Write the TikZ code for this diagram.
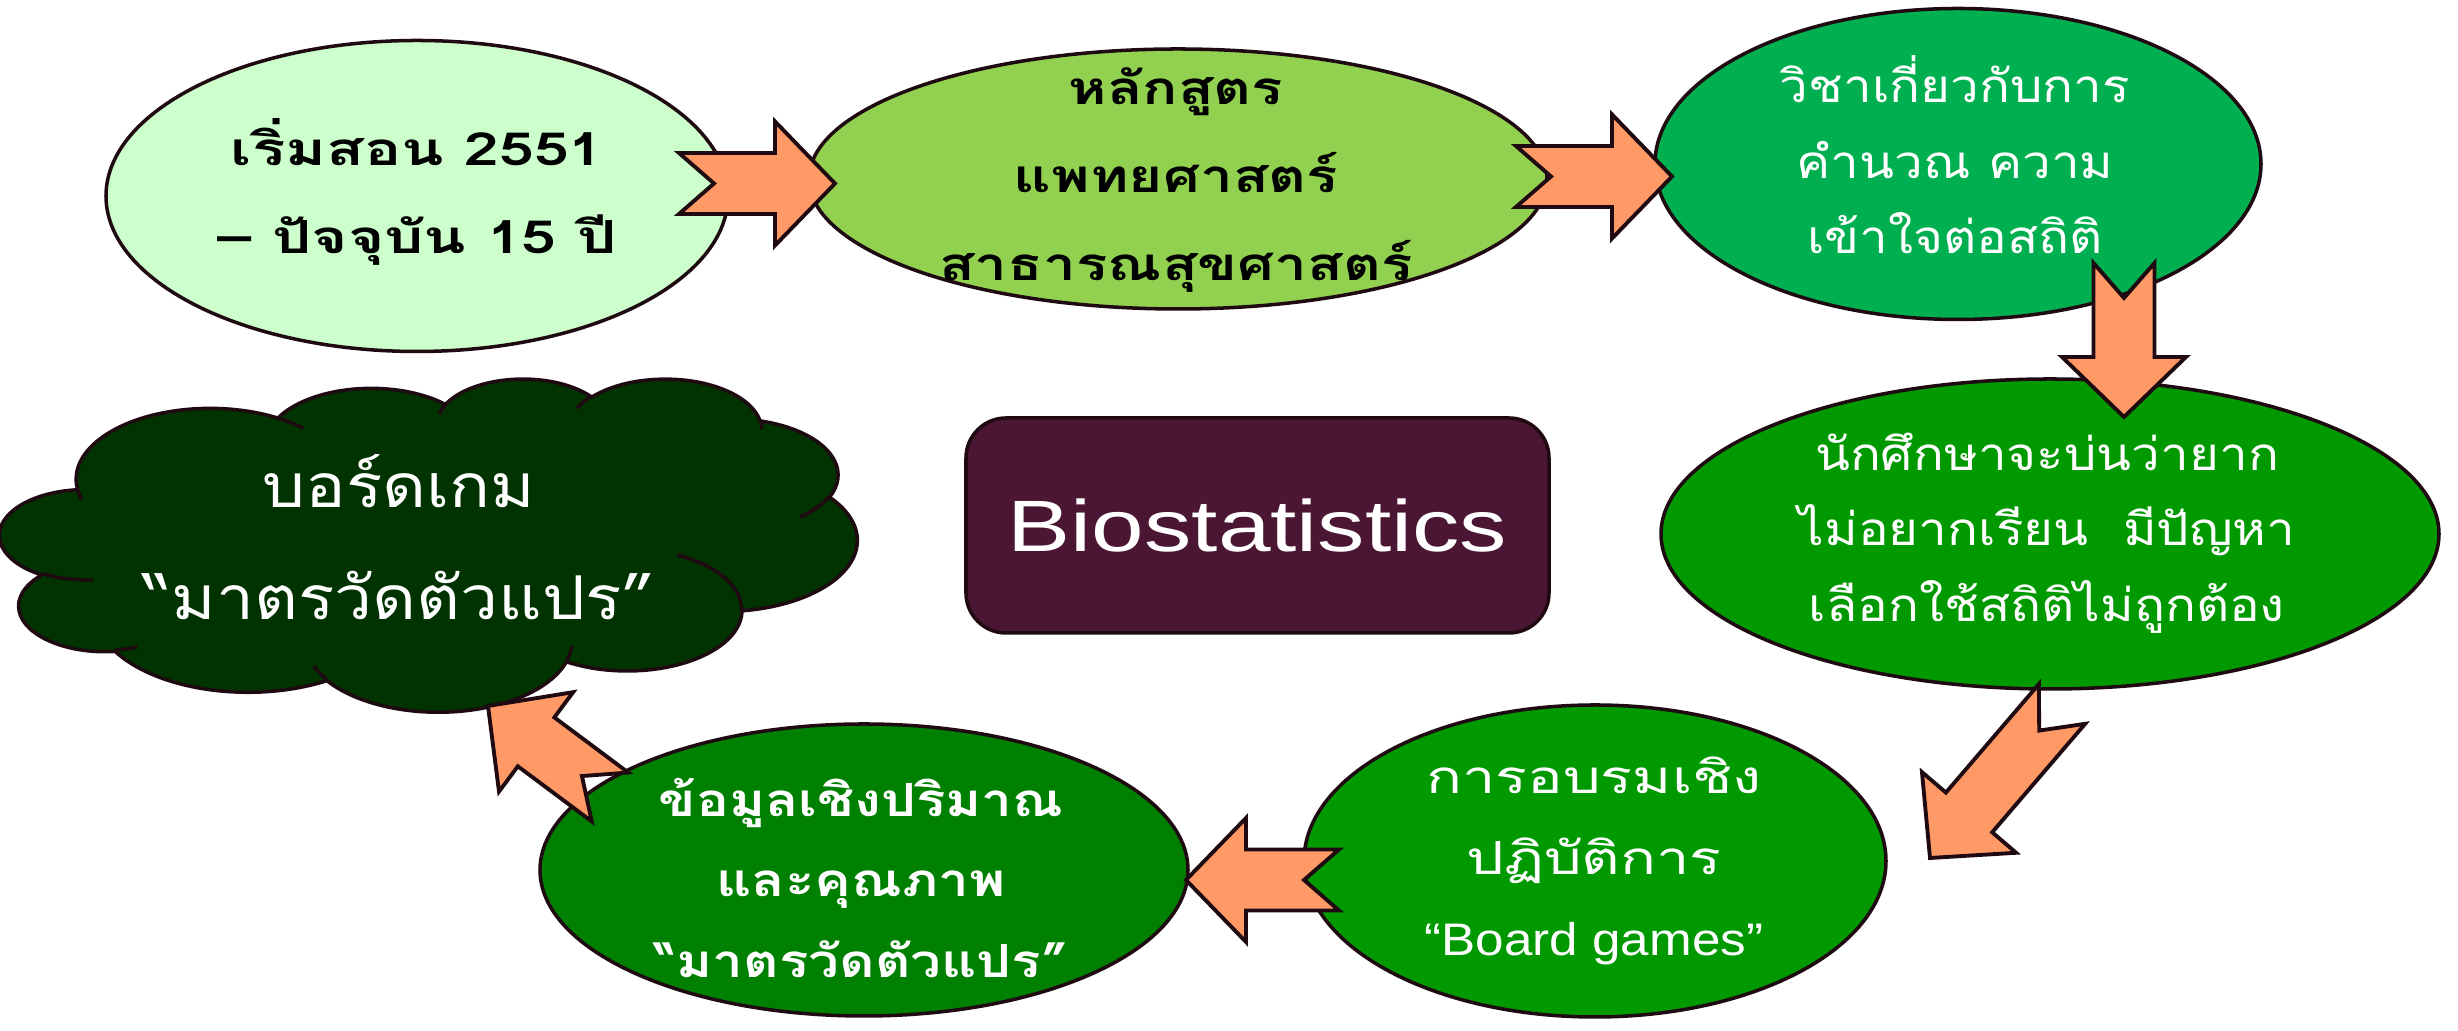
\documentclass[tikz,border=0pt]{standalone}
\usepackage{fontspec}
\setmainfont{Liberation Sans}[FakeStretch=1.3]
\newfontfamily\latinnarrow{Liberation Sans}[FakeStretch=1.12]
\newfontfamily\thaiwide{Loma}[Script=Thai,FakeStretch=1.3]
\newfontfamily\thaibig{Loma}[Script=Thai,FakeStretch=1.36]
\newfontfamily\thaimid{Loma}[Script=Thai,FakeStretch=1.28]
\newfontfamily\thaisemi{Loma}[Script=Thai,FakeStretch=1.2]
\newfontfamily\thainarrow{Loma}[Script=Thai,FakeStretch=1.12]
\usetikzlibrary{shapes.geometric,calc}
\definecolor{outl}{HTML}{200A12}
\definecolor{cpale}{HTML}{CCFFCC}
\definecolor{clime}{HTML}{92D050}
\definecolor{cmint}{HTML}{00B050}
\definecolor{cgrass}{HTML}{009900}
\definecolor{cleaf}{HTML}{008000}
\definecolor{cforest}{HTML}{003300}
\definecolor{cwine}{HTML}{4A1633}
\definecolor{cpeach}{HTML}{FF9966}
\newcommand{\puff}[4]{arc[x radius=#1, y radius=#2,
  start angle={atan2(#1*sin(#3),#2*cos(#3))},
  delta angle={mod(atan2(#1*sin(#3+#4),#2*cos(#3+#4))-atan2(#1*sin(#3),#2*cos(#3))+720,360)}]}
\newcommand{\notchedarrow}[2]{%
  \draw[blockarrow] ($(#1)!0.305cm!90:(#2)$)
    -- ($(#2)!0.6cm!(#1)!0.305cm!90:(#2)$)
    -- ($(#2)!0.6cm!(#1)!0.62cm!90:(#2)$)
    -- (#2)
    -- ($(#2)!0.6cm!(#1)!0.62cm!-90:(#2)$)
    -- ($(#2)!0.6cm!(#1)!0.305cm!-90:(#2)$)
    -- ($(#1)!0.305cm!-90:(#2)$)
    -- ($(#1)!0.35cm!(#2)$) -- cycle;}
\begin{document}
\begin{tikzpicture}[bubble/.style={ellipse, draw=outl, line width=1pt, inner sep=0pt},
    txtbold/.style={align=center, text=black, font=\thaimid\bfseries\fontsize{13}{25}\selectfont},
    txtlight/.style={align=center, text=white, font=\thainarrow\fontsize{13}{21.5}\selectfont},
    blockarrow/.style={draw=outl, fill=cpeach, line width=1.1pt}]
  \useasboundingbox (0,0) rectangle (24.58,10.31);
  \node [bubble, fill=cpale, minimum width=6.22cm, minimum height=3.11cm] (start) at (4.17,8.35) {};
  \node [bubble, fill=clime, minimum width=7.38cm, minimum height=2.60cm] (course) at (11.78,8.52) {};
  \node [bubble, fill=cmint, minimum width=6.06cm, minimum height=3.11cm] (subject) at (19.58,8.67) {};
  \node [bubble, fill=cgrass, minimum width=7.78cm, minimum height=3.10cm] (student) at (20.50,4.97) {};
  \node [bubble, fill=cgrass, minimum width=5.82cm, minimum height=3.12cm] (workshop) at (15.95,1.70) {};
  \node [bubble, fill=cleaf, minimum width=6.48cm, minimum height=2.92cm] (data) at (8.64,1.61) {};
  \node [rectangle, rounded corners=0.4cm, draw=outl, fill=cwine, line width=1pt,
    minimum width=5.83cm, minimum height=2.15cm] (title) at (12.575,5.055) {};
  \begin{scope}[shift={(0,6.53)}, xscale=0.19838, yscale=-0.077083, draw=outl, line width=1pt]
    \draw [fill=cforest] (3.9,14.37) \puff{6.753}{9.19}{-190.4875}{123.7805}
      \puff{5.333}{7.267}{-144.1024}{89.9452} \puff{4.365}{5.945}{-145.8079}{99.723}
      \puff{4.857}{6.595}{-130.9861}{117.2417} \puff{5.333}{7.273}{-78.7089}{109.0269}
      \puff{6.775}{9.22}{-46.2673}{130.269} \puff{5.785}{7.867}{0.625}{114.0333}
      \puff{6.752}{9.215}{22.4516}{115.1726} \puff{7.72}{10.543}{66.2426}{75.711}
      \puff{4.36}{5.918}{-274.9421}{146.7356} \puff{4.345}{5.945}{-246.8285}{152.5189} -- cycle;
    \draw (4.693,26.177) \puff{4.345}{5.945}{86.742}{26.4295}
      (6.928,34.899) \puff{4.36}{5.918}{73.6105}{11.4475}
      (16.478,39.09) \puff{6.752}{9.215}{137.6242}{14.0811}
      (28.827,34.751) \puff{6.752}{9.215}{6.4533}{15.9984}
      (34.129,22.954) \puff{5.785}{7.867}{-70.2924}{70.9174}
      (41.798,15.354) \puff{5.333}{7.273}{30.318}{27.7515}
      (38.324,5.426) \puff{4.857}{6.595}{-13.7443}{14.8635}
      (29.078,3.952) \puff{4.857}{6.595}{-149.1815}{18.1876}
      (22.141,4.72) \puff{4.365}{5.945}{-163.4943}{17.6834}
      (14,5.192) \puff{6.753}{9.19}{-66.707}{12.3194}
      (4.127,15.789) \puff{6.753}{9.19}{157.6544}{11.8582};
  \end{scope}

  \node [txtbold, font=\thaibig\bfseries\fontsize{13}{25}\selectfont] (starttxt) at (4.17,8.39) {เริ่มสอน 2551\\– ปัจจุบัน 15 ปี};
  \node [txtbold] (coursetxt) at (11.76,8.51) {หลักสูตร\\แพทยศาสตร์\\สาธารณสุขศาสตร์};
  \node [txtlight] (subjecttxt) at (19.55,8.76) {วิชาเกี่ยวกับการ\\คำนวณ ความ\\เข้าใจต่อสถิติ};
  \node [txtlight] (studenttxt) at (20.47,4.98) {นักศึกษาจะบ่นว่ายาก\\ไม่อยากเรียน~~มีปัญหา\\เลือกใช้สถิติไม่ถูกต้อง};
  \node [txtlight, font=\thaiwide\fontsize{13}{23}\selectfont] (workshoptxt) at (15.94,1.70)
    {การอบรมเชิง\\ปฏิบัติการ\\{\latinnarrow “Board games”}};
  \node [txtlight, font=\thaisemi\bfseries\fontsize{13}{23}\selectfont] (datatxt) at (8.61,1.53)
    {ข้อมูลเชิงปริมาณ\\และคุณภาพ\\“มาตรวัดตัวแปร”};
  \node [txtlight, font=\thainarrow\fontsize{17.2}{32}\selectfont] (gametxt) at (3.99,4.94) {บอร์ดเกม\\“มาตรวัดตัวแปร”};
  \node [text=white, font=\fontsize{20.7}{24}\selectfont] (titletxt) at (title) {Biostatistics};

  \coordinate (a1s) at (6.79,8.475);  \coordinate (a1e) at (8.35,8.475);
  \coordinate (a2s) at (15.16,8.545); \coordinate (a2e) at (16.72,8.545);
  \coordinate (a3s) at (21.24,7.68);  \coordinate (a3e) at (21.24,6.14);
  \coordinate (a4s) at (20.62,3.27);  \coordinate (a4e) at (19.30,1.73);
  \coordinate (a5s) at (13.39,1.51);  \coordinate (a5e) at (11.86,1.51);
  \coordinate (a6s) at (6.10,2.34);   \coordinate (a6e) at (4.88,3.25);
  \notchedarrow{a1s}{a1e}
  \notchedarrow{a2s}{a2e}
  \notchedarrow{a3s}{a3e}
  \notchedarrow{a4s}{a4e}
  \notchedarrow{a5s}{a5e}
  \notchedarrow{a6s}{a6e}
\end{tikzpicture}
\end{document}
